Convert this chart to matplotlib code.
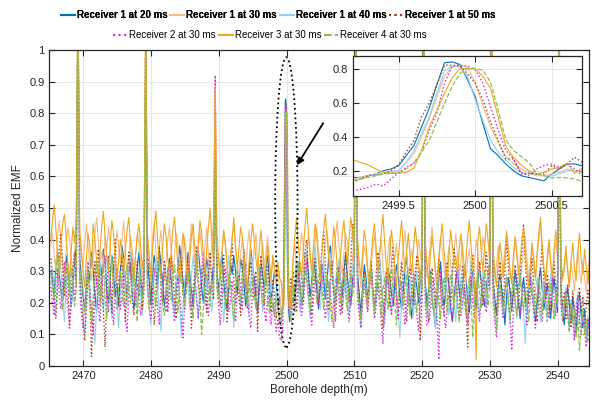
import numpy as np
import matplotlib
matplotlib.use("Agg")
import matplotlib.pyplot as plt
from matplotlib.patches import Ellipse
from matplotlib.ticker import FuncFormatter

plt.rcParams['font.family'] = ['Liberation Sans', 'DejaVu Sans']

labels = ["Receiver 1 at 20 ms", "Receiver 1 at 30 ms", "Receiver 1 at 40 ms",
          "Receiver 1 at 50 ms", "Receiver 2 at 30 ms", "Receiver 3 at 30 ms",
          "Receiver 4 at 30 ms"]

# coarse samples from 2465.2 m (step 0.25 m) up to the inset window
r1_20_pre = [.30, .27, .22, .33, .36, .29, .24, .21, .28, .35,
             .31, .26, .19, .24, .33, .38, 1.2, .34, .29, .22,
             .18, .25, .31, .27, .36, .30, .23, .17, .26, .32,
             .29, .37, .33, .24, .20, .28, .35, .31, .22, .26,
             .19, .30, .38, .34, .27, .21, .29, .33, .25, .18,
             .24, .31, .36, .28, .22, .30, .93, .33, .27, .20,
             .29, .35, .31, .24, .37, .32, .26, .19, .23, .30,
             .34, .28, .21, .17, .25, .31, .38, .33, .27, .22,
             .30, .36, .29, .24, .19, .27, .33, .37, .31, .25,
             .20, .28, .34, .30, .23, .26, .32, .68, .29, .24,
             .31, .36, .27, .21, .18, .25, .33, .29, .35, .30,
             .23, .27, .34, .31, .26, .19, .24, .30, .37, .32,
             .28, .22, .17, .26, .33, .29, .24, .31, .35, .27,
             .21, .25, .30, .26, .19, .22]
r1_30_pre = [.38, .42, .35, .30, .41, .46, .39, .33, .28, .37,
             .44, .40, .34, .29, .36, .43, 1.2, .41, .35, .31,
             .39, .45, .38, .32, .27, .34, .42, .47, .40, .33,
             .36, .30, .41, .37, .44, .39, .31, .26, .35, .43,
             .38, .32, .40, .46, .36, .29, .34, .41, .37, .30,
             .35, .42, .39, .33, .28, .37, 1.1, .40, .34, .29,
             .41, .45, .36, .31, .38, .43, .35, .27, .33, .40,
             .44, .37, .30, .35, .42, .38, .32, .26, .36, .41,
             .34, .29, .39, .45, .40, .33, .28, .37, .43, .36,
             .31, .38, .44, .35, .30, .39, .46, .90, .37, .32,
             .29, .36, .42, .38, .31, .27, .35, .41, .44, .37,
             .33, .28, .36, .40, .34, .30, .38, .43, .35, .29,
             .37, .42, .33, .27, .34, .39, .31, .36, .41, .32,
             .28, .35, .30, .26, .31, .24]
r1_40_pre = [.26, .31, .22, .17, .29, .35, .30, .21, .14, .25,
             .33, .28, .19, .24, .31, .27, 1.15, .29, .22, .16,
             .10, .21, .30, .25, .18, .13, .07, .19, .27, .33,
             .24, .17, .28, .35, .30, .22, .15, .26, .32, .21,
             .12, .23, .29, .34, .26, .19, .31, .36, .27, .20,
             .25, .18, .30, .23, .16, .28, 1.0, .26, .19, .13,
             .22, .29, .34, .25, .18, .11, .24, .31, .27, .20,
             .28, .33, .23, .16, .26, .30, .21, .09, .19, .27,
             .32, .25, .18, .29, .35, .28, .22, .15, .24, .31,
             .26, .19, .27, .33, .23, .17, .25, .70, .28, .21,
             .30, .24, .14, .22, .29, .35, .27, .20, .12, .25,
             .31, .26, .18, .23, .36, .29, .21, .16, .27, .33,
             .24, .19, .28, .32, .25, .17, .23, .30, .26, .20,
             .27, .22, .16, .24, .19, .15]
r1_50_pre = [.34, .28, .18, .15, .26, .37, .42, .30, .22, .33,
             .27, .12, .20, .31, .36, .25, 1.2, .30, .21, .14,
             .08, .19, .29, .24, .03, .16, .33, .26, .37, .22,
             .30, .18, .06, .21, .35, .28, .17, .32, .40, .24,
             .19, .29, .34, .23, .14, .27, .36, .31, .21, .16,
             .26, .33, .22, .29, .18, .24, 1.1, .28, .34, .19,
             .25, .13, .22, .31, .38, .26, .20, .33, .28, .17,
             .24, .35, .29, .21, .15, .27, .31, .36, .23, .18,
             .29, .33, .26, .12, .22, .30, .38, .28, .20, .25,
             .32, .24, .17, .29, .36, .27, .21, .63, .30, .24,
             .19, .28, .35, .26, .14, .23, .32, .39, .27, .20,
             .28, .22, .16, .31, .37, .25, .18, .29, .33, .26,
             .21, .30, .11, .24, .35, .28, .19, .26, .32, .23,
             .17, .27, .22, .15, .20, .13]
r2_30_pre = [.25, .20, .16, .28, .31, .22, .18, .27, .33, .24,
             .19, .13, .23, .29, .21, .26, 1.2, .24, .17, .12,
             .20, .27, .33, .24, .16, .10, .21, .28, .19, .14,
             .24, .30, .35, .22, .17, .26, .20, .13, .25, .31,
             .27, .18, .22, .29, .15, .11, .23, .28, .34, .25,
             .19, .26, .21, .16, .24, .30, 1.05, .27, .20, .15,
             .22, .31, .26, .18, .13, .24, .29, .21, .17, .27,
             .33, .25, .19, .14, .22, .28, .23, .16, .09, .20,
             .26, .31, .24, .18, .25, .29, .21, .15, .23, .30,
             .36, .27, .20, .16, .24, .28, .33, .92, .26, .19,
             .13, .22, .28, .31, .24, .17, .21, .27, .20, .14,
             .23, .29, .25, .18, .26, .32, .22, .16, .12, .24,
             .28, .21, .17, .25, .30, .23, .18, .14, .22, .19,
             .13, .20, .16, .11, .15, .09]
r3_30_pre = [.40, .46, .51, .43, .35, .29, .38, .45, .48, .41,
             .33, .27, .36, .44, .39, .47, 1.2, .43, .37, .30,
             .25, .34, .42, .38, .31, .45, .40, .33, .28, .36,
             .44, .49, .41, .35, .30, .38, .46, .42, .34, .27,
             .33, .40, .36, .29, .37, .43, .47, .39, .32, .26,
             .35, .41, .45, .38, .31, .36, 1.15, .42, .35, .28,
             .37, .44, .49, .40, .33, .29, .38, .45, .41, .34,
             .30, .36, .43, .47, .39, .32, .27, .35, .42, .38,
             .31, .26, .34, .41, .45, .37, .30, .39, .46, .42,
             .35, .29, .37, .44, .50, .40, .33, .88, .41, .34,
             .28, .36, .43, .39, .32, .25, .34, .40, .47, .38,
             .31, .37, .44, .41, .35, .29, .24, .33, .39, .45,
             .40, .34, .30, .37, .43, .36, .28, .32, .38, .33,
             .27, .35, .31, .29, .33, .28]
r4_30_pre = [.29, .25, .21, .30, .35, .27, .23, .18, .26, .32,
             .28, .22, .31, .26, .19, .24, 1.15, .27, .30, .23,
             .17, .26, .31, .20, .13, .22, .28, .33, .25, .19,
             .27, .32, .22, .15, .24, .29, .34, .26, .21, .18,
             .25, .30, .23, .19, .28, .32, .24, .20, .27, .31,
             .22, .14, .25, .29, .21, .26, 1.05, .24, .18, .27,
             .31, .23, .19, .28, .33, .26, .20, .16, .24, .30,
             .25, .21, .28, .32, .22, .17, .26, .29, .23, .19,
             .24, .30, .26, .20, .15, .27, .31, .25, .21, .10,
             .18, .26, .29, .23, .19, .27, .24, .65, .25, .21,
             .28, .32, .24, .18, .22, .29, .26, .20, .15, .23,
             .30, .25, .21, .27, .33, .24, .19, .26, .22, .28,
             .23, .18, .26, .31, .25, .20, .24, .29, .21, .17,
             .22, .19, .16, .21, .18, .14]

# fine samples 2499.20 .. 2500.70 (step 0.05 m), shown in the inset
r1_20_fine = [.16, .16, .17, .18, .20, .21, .23, .29, .35, .46, .57, .71, .84, .845, .83, .74,
              .64, .48, .33, .29, .24, .20, .17, .16, .15, .14, .18, .21, .24, .24, .23]
r1_30_fine = [.15, .16, .17, .18, .19, .19, .20, .25, .30, .40, .51, .64, .76, .815, .825, .815,
              .72, .59, .46, .37, .285, .24, .21, .19, .17, .17, .18, .19, .21, .20, .19]
r1_40_fine = [.14, .15, .17, .18, .19, .195, .20, .25, .32, .42, .52, .66, .79, .82, .815, .76,
              .62, .50, .38, .31, .265, .22, .19, .18, .18, .17, .17, .18, .20, .20, .20]
r1_50_fine = [.13, .15, .17, .175, .18, .20, .235, .31, .38, .52, .60, .71, .825, .825, .825, .775,
              .72, .62, .49, .38, .27, .27, .18, .185, .18, .18, .23, .21, .24, .28, .25]
r2_30_fine = [.08, .09, .10, .12, .11, .15, .19, .22, .245, .31, .44, .54, .72, .82, .825, .82,
              .80, .72, .58, .44, .32, .27, .19, .17, .21, .23, .24, .22, .24, .21, .17]
r3_30_fine = [.265, .25, .235, .21, .19, .185, .185, .19, .215, .32, .46, .56, .66, .75, .805, .805,
              .805, .76, .69, .52, .345, .28, .235, .20, .18, .19, .21, .22, .245, .185, .215]
r4_30_fine = [.14, .15, .16, .17, .18, .185, .186, .21, .245, .31, .38, .49, .60, .70, .776, .806,
              .806, .796, .727, .56, .383, .32, .285, .25, .186, .17, .157, .16, .157, .15, .137]

# coarse samples from 2500.95 m (step 0.25 m)
r1_20_post = [.24, .21, .28, .33, .26, .19, .23, .31, .36, .29,
              .22, .27, .34, .30, .24, .18, .25, .32, .28, .21,
              .26, .35, .38, .31, .23, .20, .29, .33, .27, .22,
              .30, .36, .28, .24, .19, .27, .31, 1.1, .29, .23,
              .17, .25, .32, .28, .21, .26, .33, .24, .18, .22,
              .29, .34, .27, .20, .16, .25, .31, .28, .23, .19,
              .26, .32, .29, .22, .18, .24, .30, .35, .27, .21,
              .15, .23, .29, .25, .20, .27, .31, 1.1, .26, .19,
              .24, .30, .22, .17, .12, .21, .28, .33, .25, .19,
              .23, .29, .26, .18, .14, .22, .27, .31, .24, .20,
              .26, .32, .28, .21, .17, .25, .30, .23, .18, .26,
              .31, .27, .22, .19, .25, .29, .33, 1.1, .27, .21,
              .16, .24, .29, .25, .20, .13, .22, .28, .24, .18,
              .23, .30, .26, .20, .15, .24, .28, .22, .17, .25,
              .29, .23, .19, .14, .21, .27, .31, .24, .18, .22,
              .26, .20, .15, .23, .28, .22, .17, 1.1, .24, .18,
              .13, .20, .25, .19, .14, .22, .17, .11, .19, .23,
              .16, .12, .18, .09, .14, .11]
r1_30_post = [.34, .39, .31, .27, .36, .42, .38, .30, .35, .41,
              .37, .29, .33, .40, .44, .36, .31, .26, .34, .39,
              .43, .37, .32, .28, .35, .41, .46, .38, .33, .29,
              .36, .42, .39, .31, .27, .34, .40, 1.15, .36, .30,
              .25, .33, .38, .35, .29, .24, .31, .37, .42, .34,
              .28, .35, .40, .32, .26, .30, .36, .41, .33, .27,
              .34, .39, .31, .25, .32, .38, .43, .35, .29, .33,
              .37, .30, .26, .34, .40, .36, .31, 1.15, .35, .28,
              .33, .39, .44, .36, .30, .26, .35, .41, .37, .31,
              .27, .34, .38, .32, .28, .36, .42, .35, .29, .33,
              .39, .31, .26, .34, .37, .30, .25, .33, .40, .36,
              .29, .34, .41, .37, .31, .27, .35, 1.15, .33, .28,
              .32, .38, .34, .27, .31, .37, .43, .36, .30, .26,
              .33, .39, .35, .29, .25, .32, .36, .41, .34, .28,
              .31, .37, .33, .27, .35, .40, .45, .36, .30, .26,
              .33, .38, .32, .27, .34, .39, .35, 1.15, .32, .27,
              .30, .36, .31, .25, .33, .29, .24, .31, .37, .30,
              .26, .33, .28, .23, .31, .34]
r1_40_post = [.20, .27, .33, .25, .17, .23, .30, .36, .28, .21,
              .15, .24, .31, .38, .29, .22, .18, .26, .33, .27,
              .20, .14, .25, .31, .24, .19, .28, .34, .26, .18,
              .23, .30, .21, .16, .25, .32, .27, 1.05, .24, .18,
              .12, .22, .29, .25, .19, .27, .33, .24, .16, .21,
              .28, .35, .26, .20, .13, .24, .30, .22, .17, .26,
              .31, .25, .18, .09, .21, .28, .33, .24, .19, .27,
              .22, .16, .25, .30, .26, .20, .28, 1.05, .23, .15,
              .21, .28, .24, .18, .12, .23, .30, .26, .19, .25,
              .31, .22, .16, .24, .29, .20, .14, .26, .32, .23,
              .18, .25, .21, .15, .27, .33, .24, .19, .28, .22,
              .16, .23, .30, .25, .19, .26, .31, 1.05, .25, .17,
              .11, .22, .27, .21, .16, .24, .29, .20, .13, .23,
              .28, .21, .15, .25, .30, .22, .17, .07, .20, .26,
              .31, .23, .18, .24, .28, .19, .14, .22, .27, .20,
              .16, .25, .29, .21, .15, .23, .27, 1.05, .22, .16,
              .20, .25, .18, .12, .21, .17, .09, .19, .23, .15,
              .12, .18, .14, .08, .16, .11]
r1_50_post = [.30, .24, .17, .26, .33, .28, .20, .36, .40, .29,
              .22, .16, .27, .34, .25, .19, .30, .37, .43, .32,
              .24, .18, .28, .33, .21, .14, .26, .31, .22, .17,
              .29, .35, .26, .20, .31, .45, .36, 1.1, .28, .21,
              .15, .24, .30, .23, .18, .27, .33, .25, .19, .29,
              .36, .28, .21, .12, .23, .30, .26, .19, .31, .38,
              .29, .22, .17, .25, .33, .27, .20, .14, .24, .31,
              .26, .19, .28, .35, .30, .08, .22, 1.1, .27, .20,
              .14, .25, .31, .24, .18, .28, .34, .26, .20, .16,
              .27, .33, .25, .19, .30, .37, .28, .21, .15, .24,
              .32, .26, .20, .06, .23, .29, .35, .27, .21, .28,
              .33, .25, .19, .28, .36, .30, .24, 1.1, .29, .22,
              .16, .27, .33, .25, .19, .30, .40, .31, .23, .17,
              .26, .32, .24, .18, .29, .36, .45, .33, .25, .20,
              .28, .34, .26, .19, .14, .25, .31, .38, .27, .21,
              .29, .24, .18, .27, .33, .25, .20, 1.1, .26, .19,
              .23, .15, .26, .20, .12, .24, .18, .09, .21, .25,
              .17, .22, .13, .19, .24, .16]
r2_30_post = [.22, .17, .25, .30, .23, .16, .20, .27, .33, .24,
              .18, .13, .21, .28, .25, .19, .26, .32, .22, .15,
              .20, .27, .23, .17, .12, .24, .29, .21, .16, .25,
              .31, .24, .18, .14, .22, .28, .25, 1.05, .21, .16,
              .12, .20, .26, .22, .17, .24, .30, .23, .15, .19,
              .26, .21, .14, .07, .18, .25, .29, .22, .16, .23,
              .28, .20, .15, .23, .27, .19, .13, .21, .26, .18,
              .24, .29, .21, .16, .11, .20, .25, 1.05, .19, .13,
              .14, .17, .23, .28, .21, .15, .02, .30, .22, .17,
              .12, .20, .26, .19, .14, .22, .27, .31, .23, .16,
              .21, .25, .18, .13, .23, .28, .20, .15, .24, .19,
              .14, .22, .27, .21, .17, .25, .29, 1.05, .20, .14,
              .09, .18, .24, .20, .15, .23, .28, .21, .16, .05,
              .17, .24, .29, .22, .16, .20, .26, .19, .13, .21,
              .27, .22, .17, .12, .20, .25, .18, .14, .22, .26,
              .19, .15, .23, .28, .21, .16, .24, 1.05, .20, .14,
              .18, .24, .17, .11, .20, .15, .08, .18, .22, .14,
              .10, .17, .12, .06, .15, .09]
r3_30_post = [.34, .41, .47, .39, .32, .28, .37, .44, .50, .42,
              .35, .30, .38, .45, .40, .33, .27, .36, .43, .48,
              .41, .34, .29, .37, .44, .39, .31, .26, .35, .42,
              .46, .38, .32, .40, .47, .43, .36, 1.2, .41, .33,
              .28, .36, .43, .39, .31, .26, .34, .41, .45, .37,
              .30, .35, .42, .48, .39, .32, .27, .36, .43, .38,
              .31, .25, .34, .40, .46, .37, .30, .36, .42, .35,
              .29, .37, .44, .39, .33, .27, .35, 1.2, .40, .32,
              .26, .35, .41, .36, .30, .24, .33, .40, .45, .37,
              .31, .27, .36, .43, .38, .32, .35, .29, .37, .42,
              .35, .28, .34, .41, .46, .38, .31, .26, .02, .40,
              .44, .36, .30, .38, .45, .40, .33, 1.2, .37, .30,
              .25, .33, .39, .35, .28, .34, .42, .37, .30, .26,
              .35, .41, .36, .29, .33, .40, .44, .36, .30, .25,
              .32, .39, .34, .28, .36, .42, .47, .38, .31, .27,
              .35, .40, .33, .28, .37, .43, .36, 1.2, .34, .28,
              .32, .38, .30, .25, .33, .39, .31, .27, .36, .42,
              .34, .29, .37, .31, .26, .33]
r4_30_post = [.26, .21, .28, .33, .25, .19, .24, .30, .27, .22,
              .17, .25, .31, .26, .20, .28, .32, .24, .18, .23,
              .29, .25, .19, .14, .22, .27, .31, .24, .20, .26,
              .30, .23, .18, .25, .29, .22, .27, 1.1, .24, .19,
              .15, .23, .28, .24, .19, .26, .30, .22, .17, .25,
              .29, .21, .16, .24, .28, .23, .18, .26, .31, .24,
              .20, .13, .22, .27, .24, .19, .25, .29, .21, .16,
              .23, .28, .22, .17, .25, .30, .24, 1.1, .22, .18,
              .25, .29, .21, .16, .23, .27, .20, .15, .24, .28,
              .22, .17, .25, .29, .23, .18, .26, .20, .14, .22,
              .27, .21, .16, .24, .28, .22, .09, .19, .25, .29,
              .23, .18, .26, .30, .24, .19, .25, 1.1, .23, .17,
              .12, .21, .26, .22, .17, .24, .28, .20, .15, .23,
              .27, .21, .16, .24, .29, .22, .18, .25, .20, .14,
              .22, .27, .21, .16, .23, .28, .22, .17, .24, .19,
              .14, .22, .26, .20, .15, .23, .19, 1.1, .21, .15,
              .19, .23, .16, .11, .20, .14, .18, .09, .15, .05,
              .13, .18, .10, .15, .08, .12]

pre = [r1_20_pre, r1_30_pre, r1_40_pre, r1_50_pre, r2_30_pre, r3_30_pre, r4_30_pre]
fine = [r1_20_fine, r1_30_fine, r1_40_fine, r1_50_fine, r2_30_fine, r3_30_fine, r4_30_fine]
post = [r1_20_post, r1_30_post, r1_40_post, r1_50_post, r2_30_post, r3_30_post, r4_30_post]

colors = ['#0072BD', '#F6BC86', '#92D3F2', '#A8401A', '#D925D9', '#EDA71E', '#8FC04A']
styles = ['-', '-', '-', ':', ':', '-', '--']
widths = [0.8, 0.8, 0.8, 1.0, 1.0, 0.8, 0.9]

fig = plt.figure(figsize=(5.92, 4.0), dpi=100)
ax = fig.add_axes([0.0836, 0.085, 0.9113, 0.79])

handles = []
for i in range(7):
    d_pre = 2465.2 + 0.25 * np.arange(len(pre[i]))
    d_fine = 2499.2 + 0.05 * np.arange(len(fine[i]))
    d_post = 2500.95 + 0.25 * np.arange(len(post[i]))
    d = np.concatenate([d_pre, d_fine, d_post])
    vals = np.concatenate([pre[i], fine[i], post[i]])
    h, = ax.plot(d, vals, color=colors[i], ls=styles[i], lw=widths[i], label=labels[i])
    handles.append(h)

tc = '#262626'
ax.set_xlim(2465, 2544.6)
ax.set_ylim(0, 1)
ax.set_xticks(np.arange(2470, 2541, 10))
ax.set_yticks(np.arange(0, 1.01, 0.1))
ax.yaxis.set_major_formatter(FuncFormatter(lambda v, p: f'{v:g}'))
ax.grid(True, color='#E3E3E3', lw=0.6)
ax.set_axisbelow(True)
ax.tick_params(direction='in', top=True, right=True, labelsize=8, colors=tc, length=4, width=0.8)
for s in ax.spines.values():
    s.set_color(tc)
    s.set_linewidth(0.9)
ax.set_xlabel('Borehole depth(m)', fontsize=8.5, color=tc, labelpad=2)
ax.set_ylabel('Normalized EMF', fontsize=8.5, color=tc, labelpad=4)

ell = Ellipse((2499.95, 0.518), width=3.3, height=0.918, fill=False,
              ls=':', lw=1.3, ec='black', zorder=5)
ax.add_patch(ell)
ax.annotate('', xy=(2501.3, 0.628), xytext=(2505.6, 0.776),
            arrowprops=dict(arrowstyle='-|>', color='black', lw=1.3, mutation_scale=10),
            zorder=6)

# inset
axi = fig.add_axes([0.5958, 0.51, 0.3878, 0.35])
for i in range(7):
    d_fine = 2499.2 + 0.05 * np.arange(len(fine[i]))
    axi.plot(d_fine, fine[i], color=colors[i], ls=styles[i], lw=widths[i])
axi.set_xlim(2499.2, 2500.7)
axi.set_ylim(0.05, 0.88)
axi.set_xticks([2499.5, 2500, 2500.5])
axi.set_yticks([0.2, 0.4, 0.6, 0.8])
axi.xaxis.set_major_formatter(FuncFormatter(lambda v, p: f'{v:g}'))
axi.yaxis.set_major_formatter(FuncFormatter(lambda v, p: f'{v:g}'))
axi.grid(True, color='#E3E3E3', lw=0.6)
axi.set_axisbelow(True)
axi.tick_params(direction='in', top=True, right=True, labelsize=8, colors=tc, length=4, width=0.8)
for s in axi.spines.values():
    s.set_color(tc)
    s.set_linewidth(0.9)

leg1 = fig.legend(handles[:4], labels[:4], loc='center', bbox_to_anchor=(0.47, 0.9625),
                  ncol=4, frameon=False, prop={'size': 7, 'weight': 'bold'},
                  handlelength=1.45, handletextpad=0.2, columnspacing=0.3, borderpad=0)
leg2 = fig.legend(handles[4:], labels[4:], loc='center', bbox_to_anchor=(0.456, 0.9125),
                  ncol=3, frameon=False, prop={'size': 7},
                  handlelength=1.45, handletextpad=0.2, columnspacing=0.3, borderpad=0)
fig.add_artist(leg1)
for lg in (leg1, leg2):
    for lh in lg.legend_handles:
        lh.set_linewidth(1.5)

fig.savefig('out.png', dpi=100)
